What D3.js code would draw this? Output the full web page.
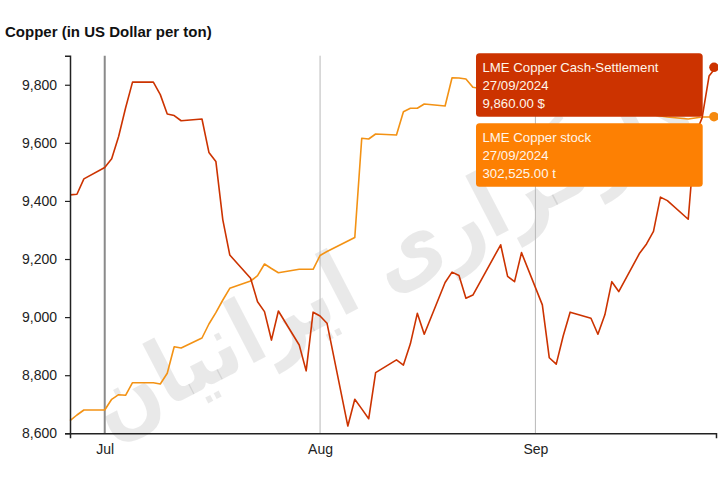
<!DOCTYPE html>
<html>
<head>
<meta charset="utf-8">
<script src="https://cdn.jsdelivr.net/npm/d3@7"></script>
<style>
  html, body { margin: 0; padding: 0; background: #fff; }
  svg { display: block; }
</style>
</head>
<body>
<svg id="chart" width="720" height="480"></svg>
<script>
// ---------- data ----------
const tradeDates = [
  "2024-06-26","2024-06-27","2024-06-28",
  "2024-07-01","2024-07-02","2024-07-03","2024-07-04","2024-07-05",
  "2024-07-08","2024-07-09","2024-07-10","2024-07-11","2024-07-12",
  "2024-07-15","2024-07-16","2024-07-17","2024-07-18","2024-07-19",
  "2024-07-22","2024-07-23","2024-07-24","2024-07-25","2024-07-26",
  "2024-07-29","2024-07-30","2024-07-31","2024-08-01","2024-08-02",
  "2024-08-05","2024-08-06","2024-08-07","2024-08-08","2024-08-09",
  "2024-08-12","2024-08-13","2024-08-14","2024-08-15","2024-08-16",
  "2024-08-19","2024-08-20","2024-08-21","2024-08-22","2024-08-23",
  "2024-08-27","2024-08-28","2024-08-29","2024-08-30",
  "2024-09-02","2024-09-03","2024-09-04","2024-09-05","2024-09-06",
  "2024-09-09","2024-09-10","2024-09-11","2024-09-12","2024-09-13",
  "2024-09-16","2024-09-17","2024-09-18","2024-09-19","2024-09-20",
  "2024-09-23","2024-09-24","2024-09-25","2024-09-26","2024-09-27"
];
const cashSettlement = [
  9421, 9423, 9476,
  9515, 9545, 9622, 9720, 9809,
  9809, 9766, 9699, 9694, 9676,
  9682, 9567, 9536, 9335, 9214,
  9134, 9053, 9019, 8921, 9021,
  8904, 8815, 9017, 9004, 8979,
  8625, 8717, 8684, 8650, 8809,
  8853, 8835, 8908, 9013, 8941,
  9119, 9155, 9143, 9065, 9076,
  9249, 9140, 9122, 9222,
  9042, 8860, 8838, 8935, 9017,
  8996, 8941, 9008, 9122, 9088,
  9220, 9252, 9295, 9413, 9401,
  9337, 9628, 9686, 9830, 9860
];
const copperStock = [
  165670, 168240, 170490,
  170490, 175310, 177380, 177110, 182780,
  182780, 182200, 187010, 198990, 198400,
  202900, 209210, 214300, 220010, 225280,
  228570, 230950, 236220, 234190, 232300,
  233830, 233830, 233830, 240050, 241850,
  246580, 248150, 292810, 292500, 294750,
  294300, 304790, 306320, 306320, 308250,
  307350, 320090, 319960, 319510, 315770,
  313660, 312760, 312310, 311410,
  310510, 310060, 309610, 308710, 308250,
  307350, 306900, 306450, 305550, 305100,
  304200, 303750, 303300, 302850, 302400,
  301500, 301950, 302400, 302400, 302525
];
const priceTicks = [8600, 8800, 9000, 9200, 9400, 9600, 9800];
const monthTicks = ["2024-07-01", "2024-08-01", "2024-09-01"];
const monthLabels = ["Jul", "Aug", "Sep"];
const seriesNames = ["LME Copper Cash-Settlement", "LME Copper stock"];
const seriesUnits = ["$", "t"];
const titleText = "Copper (in US Dollar per ton)";
const watermarkText = "کارگزاری ایرانیان";

// ---------- setup ----------
(function draw() {
const parse = d3.utcParse("%Y-%m-%d");
const dates = tradeDates.map(parse);
const svg = d3.select("#chart");
const FONT = "'Liberation Sans', Arial, sans-serif";

const pL = 70, pR = 716, pT = 55.7, pB = 433.3;
const x = d3.scaleUtc().domain([parse("2024-06-26"), parse("2024-09-27")]).range([pL, pR]);
const y = d3.scaleLinear().domain([8600, 9900]).range([pB, pT]);
const yStock = d3.scaleLinear().domain([160000, 330000]).range([pB, pT]);

const RED = "#cc3300", ORANGE = "#f39214";

// title
svg.append("text").attr("x", 5).attr("y", 36.5)
  .attr("font-family", FONT).attr("font-weight", "bold").attr("font-size", 15)
  .attr("fill", "#111").text(titleText);

// watermark
const wm = svg.append("g").attr("transform", "translate(392,256) rotate(-27.5)");
const wmText = wm.append("text")
  .attr("text-anchor", "middle").attr("dominant-baseline", "central")
  .attr("font-family", "'DejaVu Sans', sans-serif").attr("font-weight", "bold")
  .attr("font-size", 90).attr("fill", "#000").attr("fill-opacity", 0.085)
  .attr("direction", "rtl")
  .text(watermarkText);
const wmLen = wmText.node().getComputedTextLength();
if (wmLen > 0) wmText.attr("transform", `scale(${670 / wmLen},1)`);

// vertical month grid lines
svg.append("g").selectAll("line").data(monthTicks).join("line")
  .attr("x1", d => x(parse(d))).attr("x2", d => x(parse(d)))
  .attr("y1", pT).attr("y2", pB)
  .attr("stroke", (d, i) => i === 0 ? "#8a8a8a" : "#b8b8b8")
  .attr("stroke-width", (d, i) => i === 0 ? 2 : 1);

// series lines
svg.append("clipPath").attr("id", "clip").append("rect")
  .attr("x", pL).attr("y", 40).attr("width", pR - pL + 2).attr("height", pB - 40);

const lineStock = d3.line().x((d, i) => x(dates[i])).y(d => yStock(d));
const linePrice = d3.line().x((d, i) => x(dates[i])).y(d => y(d));

svg.append("path").datum(copperStock).attr("d", lineStock)
  .attr("fill", "none").attr("stroke", ORANGE).attr("stroke-width", 1.6)
  .attr("stroke-linejoin", "round");
svg.append("path").datum(cashSettlement).attr("d", linePrice)
  .attr("fill", "none").attr("stroke", RED).attr("stroke-width", 1.6)
  .attr("stroke-linejoin", "round");

// axes
const yAxis = d3.axisLeft(y).tickValues(priceTicks).tickFormat(d3.format(",")).tickSizeInner(5).tickSizeOuter(5).tickPadding(8);
const yg = svg.append("g").attr("transform", `translate(${pL},0)`).call(yAxis);
yg.select(".domain").attr("stroke", "#222").attr("stroke-width", 1.5);
yg.selectAll(".tick line").attr("stroke", "#222").attr("stroke-width", 1.2);
yg.selectAll(".tick text").attr("font-family", FONT).attr("font-size", 14).attr("fill", "#222");

const xAxis = d3.axisBottom(x).tickValues(monthTicks.map(parse))
  .tickFormat((d, i) => monthLabels[i]).tickSizeInner(0).tickSizeOuter(5).tickPadding(11);
const xg = svg.append("g").attr("transform", `translate(0,${pB})`).call(xAxis);
xg.select(".domain").attr("stroke", "#222").attr("stroke-width", 1.5);
xg.selectAll(".tick text").attr("font-family", FONT).attr("font-size", 14).attr("fill", "#222");

// end markers
const lastI = dates.length - 1;
const markers = svg.append("g").attr("clip-path", "url(#clip)");
markers.append("circle").attr("cx", x(dates[lastI]) - 2).attr("cy", yStock(copperStock[lastI])).attr("r", 4.8).attr("fill", "#f58a10");
markers.append("circle").attr("cx", x(dates[lastI]) - 2).attr("cy", y(cashSettlement[lastI])).attr("r", 4.8).attr("fill", RED);

// tooltips
const fmt = d3.format(",.2f");
const dateFmt = d3.utcFormat("%d/%m/%Y");
const tips = [
  { y0: 53.3, fill: "#cc3300", lines: [seriesNames[0], dateFmt(dates[lastI]), fmt(cashSettlement[lastI]) + " " + seriesUnits[0]] },
  { y0: 123.3, fill: "#fd8003", lines: [seriesNames[1], dateFmt(dates[lastI]), fmt(copperStock[lastI]) + " " + seriesUnits[1]] }
];
const tg = svg.append("g").selectAll("g").data(tips).join("g")
  .attr("transform", d => `translate(476,${d.y0})`);
tg.append("rect").attr("width", 226.7).attr("height", 63.4).attr("rx", 3.5).attr("fill", d => d.fill);
tg.each(function(d) {
  d3.select(this).selectAll("text").data(d.lines).join("text")
    .attr("x", 6.5).attr("y", (t, i) => 19 + i * 17.8)
    .attr("font-family", FONT).attr("font-size", 13.2).attr("fill", "#fff6ea")
    .text(t => t);
});
})();
</script>
</body>
</html>
